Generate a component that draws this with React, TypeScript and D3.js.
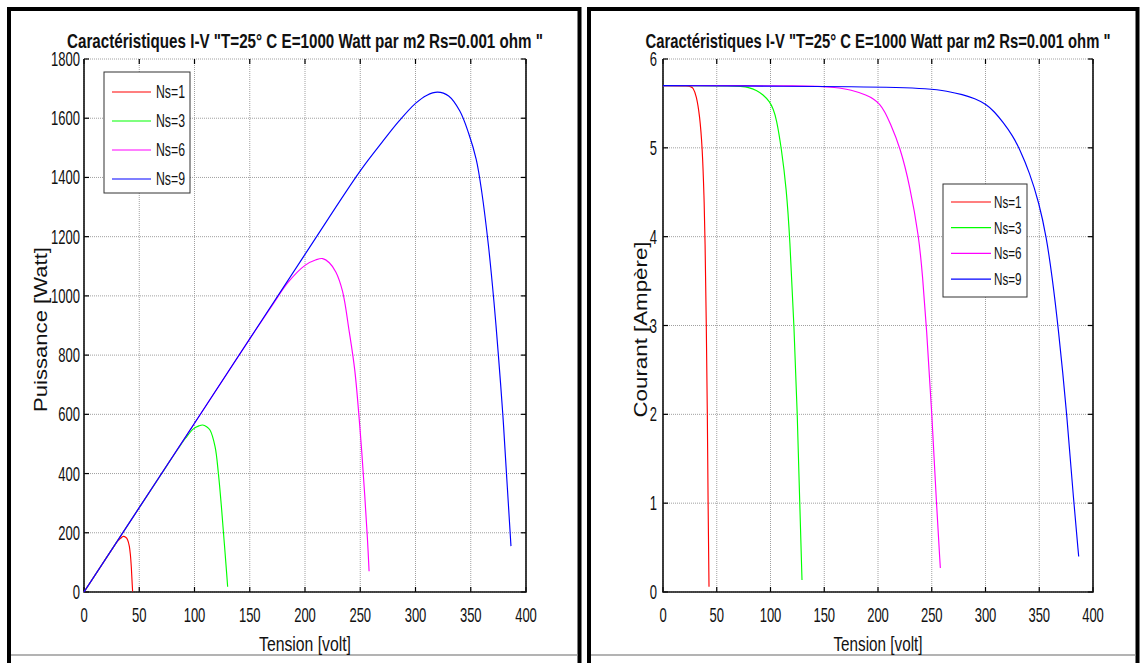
import React from 'react';
import * as d3 from 'd3';

const width = 1146;
const height = 663;

// shared
const seriesNames = ['Ns=1', 'Ns=3', 'Ns=6', 'Ns=9'];
const seriesColors = ['#ff0000', '#00ff00', '#ff00ff', '#0000ff'];
const voltTicks = [0, 50, 100, 150, 200, 250, 300, 350, 400];
const powerTicks = [0, 200, 400, 600, 800, 1000, 1200, 1400, 1600, 1800];
const currentTicks = [0, 1, 2, 3, 4, 5, 6];

// P-V curves (left)
const pvV1 = [0, 20, 26, 30, 33, 35.6, 38, 39.5, 41, 42, 42.8, 43.5, 44];
const pvP1 = [0, 114, 148, 170, 181, 188, 184, 176, 155, 125, 85, 35, 2];
const pvV3 = [0, 50, 75, 85, 92, 99, 104, 107.4, 111, 114, 118.6, 121.6, 124.6, 127, 129.1, 130];
const pvP3 = [0, 285, 427, 483, 520, 551, 561, 564, 558, 547, 491, 401, 277, 164, 63, 18];
const pvV6 = [0, 100, 150, 170, 185, 200, 210, 216, 222, 228, 234, 240, 245, 250, 254, 256.5, 258];
const pvP6 = [0, 570, 855, 966, 1047, 1103, 1122, 1126, 1112, 1080, 1015, 880, 750, 540, 330, 180, 70];
const pvV9 = [0, 100, 200, 250, 270, 285, 300, 310, 320, 330, 340, 348, 355, 360, 366, 371, 375, 379, 382, 384, 386.4];
const pvP9 = [0, 570, 1140, 1422, 1520, 1590, 1650, 1677, 1688, 1675, 1625, 1550, 1460, 1350, 1170, 980, 800, 600, 420, 300, 155];

// I-V curves (right)
const ivV1 = [0, 25, 28, 31, 34.1, 36.6, 38.2, 39.1, 40.3, 41.3, 41.9, 42.8];
const ivI1 = [5.7, 5.7, 5.68, 5.59, 5.37, 5.0, 4.45, 4.0, 3.0, 2.0, 1.0, 0.06];
const ivV3 = [0, 70, 80, 86.9, 93, 99.3, 102.5, 105.5, 110.1, 114.8, 117.9, 121.9, 125, 127.2, 129.3];
const ivI3 = [5.7, 5.7, 5.68, 5.65, 5.6, 5.52, 5.44, 5.33, 5.0, 4.54, 4.0, 3.0, 2.0, 1.0, 0.135];
const ivV6 = [0, 140, 160, 175, 190, 196, 201.6, 206.2, 210.9, 220.8, 229.5, 238.1, 241.5, 245, 250.2, 254.3, 258];
const ivI6 = [5.7, 5.7, 5.68, 5.655, 5.59, 5.55, 5.495, 5.41, 5.29, 5.0, 4.58, 4.0, 3.55, 3.0, 2.0, 1.0, 0.27];
const ivV9 = [0, 200, 249.6, 263.6, 279, 290, 300.8, 308, 316.3, 325.6, 331.2, 341.1, 349.8, 356.6, 362, 367.5, 375.8, 382.1, 386.7];
const ivI9 = [5.7, 5.69, 5.665, 5.64, 5.6, 5.555, 5.49, 5.41, 5.29, 5.13, 5.0, 4.72, 4.38, 4.0, 3.55, 3.0, 2.0, 1.0, 0.4];

const titleText = 'Caractéristiques I-V "T=25° C E=1000 Watt par m2 Rs=0.001 ohm "';
const font = 'Liberation Sans, Arial, Helvetica, sans-serif';

function Panel({ frame, plot, yDomain, yTicks, yLabel, yLabelLen, yLabelX, titleLen, xLabelLen, series, legend, yGap, curve }) {
  const x = d3.scaleLinear().domain([0, 400]).range([plot.left, plot.right]);
  const y = d3.scaleLinear().domain(yDomain).range([plot.bottom, plot.top]);
  const line = d3
    .line()
    .x(d => x(d[0]))
    .y(d => y(d[1]))
    .curve(curve);
  const cx = (plot.left + plot.right) / 2;
  const cy = (plot.top + plot.bottom) / 2;
  const tick = 5;

  return (
    <g>
      {/* frame */}
      <path d={`M${frame.x0},${height} V9 H${frame.x1} V${height}`} fill="none" stroke="#000" strokeWidth={4} />
      <line x1={frame.x0 + 2} x2={frame.x1 - 2} y1={655} y2={655} stroke="#9a9a9a" strokeWidth={1.5} />

      {/* grid */}
      {voltTicks.map(t => (
        <line key={'gx' + t} x1={x(t)} x2={x(t)} y1={plot.top} y2={plot.bottom} stroke="#a0a0a0" strokeDasharray="1 1" />
      ))}
      {yTicks.map(t => (
        <line key={'gy' + t} x1={plot.left} x2={plot.right} y1={y(t)} y2={y(t)} stroke="#a0a0a0" strokeDasharray="1 1" />
      ))}

      {/* ticks */}
      {voltTicks.map(t => (
        <g key={'tx' + t}>
          <line x1={x(t)} x2={x(t)} y1={plot.bottom} y2={plot.bottom - tick} stroke="#000" strokeWidth={1.2} />
          <line x1={x(t)} x2={x(t)} y1={plot.top} y2={plot.top + tick} stroke="#000" strokeWidth={1.2} />
          <text
            transform={`translate(${x(t)},622) scale(0.62,1)`}
            fontSize={21}
            textAnchor="middle"
            fontFamily={font}
            fill="#111"
          >
            {t}
          </text>
        </g>
      ))}
      {yTicks.map(t => (
        <g key={'ty' + t}>
          <line x1={plot.left} x2={plot.left + tick} y1={y(t)} y2={y(t)} stroke="#000" strokeWidth={1.2} />
          <line x1={plot.right} x2={plot.right - tick} y1={y(t)} y2={y(t)} stroke="#000" strokeWidth={1.2} />
          <text
            transform={`translate(${plot.left - yGap},${y(t) + 7}) scale(0.62,1)`}
            fontSize={21}
            textAnchor="end"
            fontFamily={font}
            fill="#111"
          >
            {t}
          </text>
        </g>
      ))}

      {/* axes */}
      <path
        d={`M${plot.left},${plot.top} V${plot.bottom} H${plot.right} V${plot.top}`}
        fill="none"
        stroke="#111"
        strokeWidth={1.6}
      />

      {/* curves */}
      {series.map((s, i) => (
        <path
          key={'s' + i}
          d={line(s.v.map((v, j) => [v, s.y[j]]))}
          fill="none"
          stroke={seriesColors[i]}
          strokeWidth={1.15}
        />
      ))}

      {/* legend */}
      <rect x={legend.x} y={legend.y} width={legend.w} height={legend.h} fill="#fff" stroke="#333" strokeWidth={1} />
      {seriesNames.map((n, i) => {
        const ry = legend.row0 + i * legend.rowH;
        return (
          <g key={'l' + i}>
            <line x1={legend.lx0} x2={legend.lx1} y1={ry} y2={ry} stroke={seriesColors[i]} strokeWidth={1.2} />
            <text
              x={legend.tx}
              y={ry + legend.fs * 0.36}
              fontSize={legend.fs}
              textLength={legend.tl}
              lengthAdjust="spacingAndGlyphs"
              fontFamily={font}
              fill="#111"
            >
              {n}
            </text>
          </g>
        );
      })}

      {/* labels */}
      <text
        x={cx}
        y={48}
        fontSize={21}
        fontWeight="bold"
        textAnchor="middle"
        textLength={titleLen}
        lengthAdjust="spacingAndGlyphs"
        fontFamily={font}
        fill="#111"
      >
        {titleText}
      </text>
      <text
        x={cx}
        y={651}
        fontSize={21}
        textAnchor="middle"
        textLength={xLabelLen}
        lengthAdjust="spacingAndGlyphs"
        fontFamily={font}
        fill="#111"
      >
        Tension [volt]
      </text>
      <text
        transform={`translate(${yLabelX},${cy + 4}) scale(0.85,1) rotate(-90)`}
        fontSize={21}
        textAnchor="middle"
        textLength={yLabelLen}
        lengthAdjust="spacingAndGlyphs"
        fontFamily={font}
        fill="#111"
      >
        {yLabel}
      </text>
    </g>
  );
}

export default function App() {
  const pvSeries = [
    { v: pvV1, y: pvP1 },
    { v: pvV3, y: pvP3 },
    { v: pvV6, y: pvP6 },
    { v: pvV9, y: pvP9 }
  ];
  const ivSeries = [
    { v: ivV1, y: ivI1 },
    { v: ivV3, y: ivI3 },
    { v: ivV6, y: ivI6 },
    { v: ivV9, y: ivI9 }
  ];
  return (
    <svg width={width} height={height} style={{ position: 'absolute', left: 0, top: 0, background: '#fff' }}>
      <Panel
        frame={{ x0: 9, x1: 579.5 }}
        plot={{ left: 84, right: 526, top: 59, bottom: 592 }}
        yDomain={[0, 1800]}
        yTicks={powerTicks}
        yLabel="Puissance [Watt]"
        yLabelLen={165}
        yLabelX={47}
        titleLen={476}
        xLabelLen={92}
        series={pvSeries}
        yGap={4}
        curve={d3.curveCatmullRom.alpha(0.5)}
        legend={{ x: 104, y: 72, w: 86, h: 121, row0: 92, rowH: 29, lx0: 112, lx1: 151, tx: 156, fs: 18, tl: 29 }}
      />
      <Panel
        frame={{ x0: 589, x1: 1137.5 }}
        plot={{ left: 663, right: 1093, top: 59, bottom: 592 }}
        yDomain={[0, 6]}
        yTicks={currentTicks}
        yLabel="Courant [Ampère]"
        yLabelLen={176}
        yLabelX={647}
        titleLen={465}
        xLabelLen={89}
        series={ivSeries}
        yGap={6}
        curve={d3.curveBasis}
        legend={{ x: 943, y: 184, w: 84, h: 113, row0: 202, rowH: 25.7, lx0: 951, lx1: 991, tx: 994, fs: 16.5, tl: 27.5 }}
      />
    </svg>
  );
}
